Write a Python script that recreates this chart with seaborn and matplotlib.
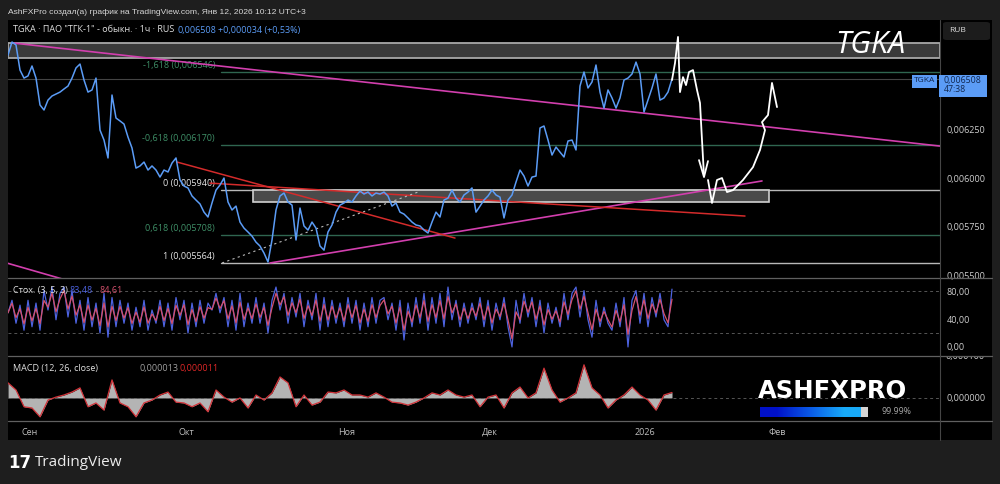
import numpy as np
import pandas as pd
import matplotlib
matplotlib.use("Agg")
import matplotlib.pyplot as plt
import seaborn as sns
from matplotlib.patches import Rectangle, FancyBboxPatch
from matplotlib.lines import Line2D
from matplotlib.colors import LinearSegmentedColormap
from matplotlib.transforms import Bbox, TransformedBbox

# --- data (prices in millionths of RUB, one value every ~4 hourly bars) ---
price_u = [6631, 6698, 6683, 6554, 6513, 6524, 6575, 6513, 6375, 6349, 6400, 6421,
           6431, 6441, 6457, 6472, 6513, 6565, 6585, 6503, 6441, 6452, 6513, 6246,
           6195, 6103, 6426, 6308, 6293, 6277, 6210, 6154, 6051, 6062, 6082, 6041,
           6062, 6041, 6005, 6041, 6031, 6077, 6103, 5990, 5959, 5949, 5908, 5887,
           5867, 5825, 5800, 5872, 5938, 5964, 6000, 5877, 5836, 5856, 5774, 5743,
           5723, 5702, 5671, 5651, 5615, 5569, 5682, 5836, 5908, 5923, 5877, 5861,
           5682, 5846, 5754, 5733, 5774, 5743, 5651, 5630, 5723, 5759, 5825, 5861,
           5872, 5887, 5877, 5908, 5933, 5918, 5928, 5908, 5923, 5918, 5928, 5908,
           5856, 5872, 5825, 5815, 5795, 5774, 5759, 5754, 5733, 5718, 5774, 5825,
           5800, 5887, 5897, 5938, 5897, 5877, 5913, 5928, 5949, 5825, 5856, 5887,
           5908, 5938, 5913, 5902, 5795, 5887, 5913, 5979, 6041, 6010, 5959, 6005,
           6010, 6257, 6267, 6195, 6118, 6159, 6133, 6108, 6190, 6195, 6144, 6472,
           6544, 6462, 6493, 6580, 6441, 6359, 6452, 6411, 6359, 6411, 6503, 6513,
           6534, 6595, 6534, 6339, 6400, 6462, 6534, 6400, 6411, 6441, 6508]

stoch_k = [49, 67, 34, 60, 24, 67, 29, 63, 24, 81, 53, 86, 39, 77, 86, 43, 81, 34,
           67, 24, 71, 29, 63, 20, 77, 14, 71, 29, 67, 34, 63, 24, 57, 29, 67, 24,
           53, 34, 67, 29, 63, 24, 71, 39, 67, 20, 63, 29, 67, 34, 63, 53, 77, 49,
           71, 29, 67, 24, 77, 29, 63, 34, 71, 34, 63, 20, 67, 86, 53, 77, 34, 71,
           43, 77, 29, 67, 39, 77, 24, 71, 29, 67, 34, 63, 29, 71, 34, 67, 24, 63,
           29, 71, 34, 67, 71, 39, 63, 24, 67, 10, 63, 29, 71, 34, 77, 24, 71, 34,
           77, 29, 86, 39, 67, 29, 63, 34, 63, 39, 71, 29, 67, 24, 63, 39, 71, 29,
           0, 67, 34, 77, 43, 71, 29, 67, 20, 63, 34, 57, 29, 77, 39, 77, 86, 43,
           81, 39, 14, 67, 29, 57, 34, 24, 63, 29, 71, 0, 67, 81, 34, 77, 29, 71,
           43, 77, 39, 29, 83]

# MACD, one value every ~8 bars (millionths)
macd_u = [36, 19, -21, -24, -45, -5, 2, 7, 14, 24, -21, -12, -29, 43, -12, -21,
          -45, -12, -5, 7, 14, -10, -12, -21, -12, -33, 19, 2, -10, 0, -24, 7,
          -5, 12, 50, 36, -21, 7, -17, -10, 14, 12, 19, 7, 7, 2, 12, 2,
          -10, -12, -17, -10, 0, 12, 7, 19, 7, 2, 7, -21, 2, 7, -24, 12,
          26, 0, 12, 71, 19, -10, 0, 12, 79, 24, 7, -24, -5, 7, 26, 7,
          -5, -29, 7, 13]

fib_names = ["-1,618", "-0,618", "0", "0,618", "1"]
fib_levels = [6546, 6170, 5940, 5708, 5564]
fib_colors = ["#2f6650", "#2f6650", "#b8b8b8", "#2f6650", "#b8b8b8"]
fib_text_colors = ["#3f9068", "#3f9068", "#e6e6e6", "#3f9068", "#e6e6e6"]
fib_start = 53.25

month_pos = [5.5, 44.5, 84.75, 120.5, 159.25, 192.25]
month_labels = ["Сен", "Окт", "Ноя", "Дек", "2026", "Фев"]

band_top = [6616, 6693]
box_x = [61.25, 190.25]
box_p = [5877, 5940]

trend_down_x, trend_down_p = [1.25, 233], [6693, 6164]
trend_low_x, trend_low_p = [-1, 20], [5568, 5444]
trend_up_x, trend_up_p = [65.5, 188.5], [5564, 5985]
red_a_x, red_a_p = [42.25, 111.75], [6082, 5692]
red_b_x, red_b_p = [50.5, 184.25], [5974, 5805]
dots_x, dots_p = [53.5, 102.5], [5564, 5928]

# hand-drawn projection
draw_x = [166, 166.75, 167.5, 168, 168.75, 169.5, 170.25, 171.25, 172.25, 173, 173.5, 174]
draw_p = [6503, 6590, 6724, 6441, 6518, 6477, 6544, 6554, 6452, 6385, 6195, 6010]
head_x = [172.75, 174, 175]
head_p = [6092, 6005, 6087]
draw2_x = [175, 176, 177.25, 178.5, 179.75, 181.25, 183.75, 186.25, 188, 189.25, 188.5, 190, 191, 192.25]
draw2_p = [5990, 5872, 5990, 6000, 5928, 5938, 5990, 6056, 6144, 6246, 6287, 6323, 6488, 6364]

last_price = 6508

# --- styling ---
sns.set_theme(style="dark")
plt.rcParams['font.family'] = ['Open Sans', 'DejaVu Sans']

W, H = 1000, 484
BG = "#1e1e1e"
BLUE = "#5b9cf6"
MAGENTA = "#d23fae"
RED = "#d42b2b"
TXT = "#cfcfcf"

def fx(px):
    return px / W

def fy(py):
    return 1 - py / H

def rect(x0, y0, x1, y1):
    return [fx(x0), fy(y1), (x1 - x0) / W, (y1 - y0) / H]

def ftxt(x, y, s, **kw):
    kw.setdefault("va", "center")
    kw.setdefault("size", 6.5)
    kw.setdefault("color", TXT)
    kw.setdefault("zorder", 6)
    return fig.text(fx(x), fy(y), s, **kw)

def u(vals):
    return np.asarray(vals, dtype=float) / 1e6

fig = plt.figure(figsize=(10, 4.84), dpi=100, facecolor=BG)
fig.patches.append(Rectangle((fx(8), fy(440)), 984 / W, 420 / H, transform=fig.transFigure,
                             fc="black", ec="none", zorder=-5))

ax_p = fig.add_axes(rect(8, 20, 940, 278))
ax_s = fig.add_axes(rect(8, 278, 940, 356), sharex=ax_p)
ax_m = fig.add_axes(rect(8, 356, 940, 421), sharex=ax_p)

for ax in (ax_p, ax_s, ax_m):
    ax.set_facecolor("black")
    ax.grid(False)
    for sp in ax.spines.values():
        sp.set_visible(False)
    ax.yaxis.tick_right()
    ax.tick_params(axis="y", length=0, pad=5, labelsize=6.5, labelcolor=TXT)
    ax.tick_params(axis="x", length=0, labelbottom=False)

bars = np.arange(len(price_u))

# --- price pane ---
ax_p.axhspan(band_top[0] / 1e6, band_top[1] / 1e6, fc="#3a3a3a", ec="#a8a8a8", lw=1.3, zorder=1)
ax_p.axhline(last_price / 1e6, color="#444444", lw=0.8, zorder=1)
for name, lvl, c, tc in zip(fib_names, fib_levels, fib_colors, fib_text_colors):
    ax_p.plot([fib_start, 233], [lvl / 1e6] * 2, color=c, lw=1.0, zorder=1)
    ax_p.annotate(f"{name} (0,00{lvl})", xy=(fib_start - 1.5, lvl / 1e6), xytext=(0, 1.5),
                  textcoords="offset points", ha="right", va="bottom", size=6.5, color=tc)
ax_p.add_patch(Rectangle((box_x[0], box_p[0] / 1e6), box_x[1] - box_x[0], (box_p[1] - box_p[0]) / 1e6,
                         fc="#4a4a4a", ec="#d0d0d0", lw=1.2, zorder=2))

ax_p.plot(trend_down_x, u(trend_down_p), color=MAGENTA, lw=1.2, zorder=3)
ax_p.plot(trend_low_x, u(trend_low_p), color=MAGENTA, lw=1.2, zorder=3)
ax_p.plot(trend_up_x, u(trend_up_p), color=MAGENTA, lw=1.2, zorder=3)
ax_p.plot(red_a_x, u(red_a_p), color=RED, lw=1.1, zorder=3)
ax_p.plot(red_b_x, u(red_b_p), color=RED, lw=1.1, zorder=3)
ax_p.plot(dots_x, u(dots_p), color="#bbbbbb", lw=0.8, ls=(0, (2, 3)), zorder=3)

sns.lineplot(x=bars, y=u(price_u), ax=ax_p, color=BLUE, linewidth=1.1, zorder=4)

ax_p.plot(draw_x, u(draw_p), color="white", lw=1.3, zorder=5)
ax_p.plot(head_x, u(head_p), color="white", lw=1.3, zorder=5)
ax_p.plot(draw2_x, u(draw2_p), color="white", lw=1.3, zorder=5)

ax_p.set_xlim(0, 233)
ax_p.set_ylim(0.005487, 0.006811)
pticks = [0.0055, 0.00575, 0.006, 0.00625]
ax_p.set_yticks(pticks)
ax_p.set_yticklabels([f"{t:.6f}".replace(".", ",") for t in pticks])
ax_p.set(xlabel="", ylabel="")

# --- stochastic pane ---
stoch_d = pd.Series(stoch_k, dtype=float).ewm(alpha=0.7).mean()
ax_s.axhline(80, color="#555555", lw=0.7, ls=(0, (3, 3)))
ax_s.axhline(20, color="#555555", lw=0.7, ls=(0, (3, 3)))
sns.lineplot(x=bars, y=stoch_k, ax=ax_s, color="#4d63e0", linewidth=0.9)
sns.lineplot(x=bars, y=stoch_d.values, ax=ax_s, color="#d4506c", linewidth=0.9)
ax_s.set_ylim(-13, 99)
ax_s.set_yticks([0, 40, 80])
ax_s.set_yticklabels(["0,00", "40,00", "80,00"])
ax_s.set(xlabel="", ylabel="")

# --- MACD pane ---
macd_x = bars[::2]
macd = u(macd_u)
ax_m.axhline(0, color="#555555", lw=0.7, ls=(0, (3, 3)))
ax_m.fill_between(macd_x, 0, macd, color="#b4b4b4", lw=0)
sns.lineplot(x=macd_x, y=macd, ax=ax_m, color="#d2343a", linewidth=0.9)
ax_m.set_ylim(-55e-6, 100e-6)
ax_m.set_yticks([0])
ax_m.set_yticklabels(["0,000000"])
ax_m.set_xticks(month_pos)
ax_m.set_xticklabels(month_labels)
ax_m.tick_params(axis="x", labelbottom=True, labelsize=6.5, labelcolor="#bdbdbd", pad=5)
ax_m.set(xlabel="", ylabel="")

# top MACD scale label, half hidden under the pane separator
top_lbl = ftxt(945, 356, "0,000100", color=TXT)
top_lbl.set_clip_box(TransformedBbox(Bbox.from_extents(fx(940), fy(421), fx(992), fy(357)), fig.transFigure))
top_lbl.set_clip_on(True)

# --- separators ---
for y in (278, 356, 421):
    fig.add_artist(Line2D([fx(8), fx(992)], [fy(y)] * 2, color="#606060", lw=0.9, zorder=5))
fig.add_artist(Line2D([fx(940)] * 2, [fy(20), fy(440)], color="#454545", lw=0.8, zorder=5))

# --- texts ---
ftxt(8, 12, "AshFXPro создал(а) график на TradingView.com, Янв 12, 2026 10:12 UTC+3",
     color="#d8d8d8", size=6.1, family=["Liberation Sans", "DejaVu Sans"])
ftxt(13, 30, 'TGKA · ПАО "ТГК-1" - обыкн. · 1ч · RUS', color="#e0e0e0")
ftxt(178, 30, "0,006508", color=BLUE)
ftxt(218, 30, "+0,000034 (+0,53%)", color=BLUE)
ftxt(13, 290, "Стох. (3, 5, 3)", color="#e0e0e0")
ftxt(70, 290, "83,48", color="#4d63e0")
ftxt(99, 290, "84,61", color="#d4506c")
ftxt(13, 368, "MACD (12, 26, close)", color="#e0e0e0")
ftxt(140, 368, "0,000013", color="#a0a0a0")
ftxt(180, 368, "0,000011", color="#e02828")

ftxt(835, 45, "TGKA", color="white", size=22, style="italic")

fig.patches.append(FancyBboxPatch((fx(943), fy(40)), 47 / W, 18 / H, boxstyle="round,pad=0,rounding_size=0.004",
                                  transform=fig.transFigure, fc="#1c1c1c", ec="none", zorder=5))
ftxt(949, 31, "RUB", size=6, color="#e0e0e0")

fig.patches.append(Rectangle((fx(912), fy(88)), 25 / W, 13 / H, transform=fig.transFigure, fc=BLUE, ec="none", zorder=5))
fig.patches.append(Rectangle((fx(939), fy(97)), 48 / W, 22 / H, transform=fig.transFigure, fc=BLUE, ec="none", zorder=5))
ftxt(924.5, 81, "TGKA", size=6, color="#10264d", ha="center")
ftxt(944, 80, "0,006508", size=6.3, color="#10264d")
ftxt(944, 90, "47:38", size=6.3, color="#10264d")

ftxt(758, 391, "ASHFXPRO", color="white", size=17.5, weight="heavy", family="DejaVu Sans")
bar_ax = fig.add_axes(rect(760, 407, 861, 417), zorder=6)
grad = LinearSegmentedColormap.from_list("pb", ["#0010c8", "#0a5ae6", "#18aaf8"])
bar_ax.imshow([[0, 0.5, 1]], cmap=grad, aspect="auto", interpolation="bilinear", extent=(0, 1, 0, 1))
bar_ax.axis("off")
fig.patches.append(Rectangle((fx(861), fy(417)), 7 / W, 10 / H, transform=fig.transFigure, fc="#d4d4d4", ec="none", zorder=6))
ftxt(881, 412, "99.99%", size=6.3, color="#a8a8a8")

ftxt(8, 463, "17", color="white", size=12, weight="heavy", family="DejaVu Sans")
ftxt(35, 463, "TradingView", color="#ececec", size=11)

fig.savefig("out.png", dpi=100, facecolor=BG)
